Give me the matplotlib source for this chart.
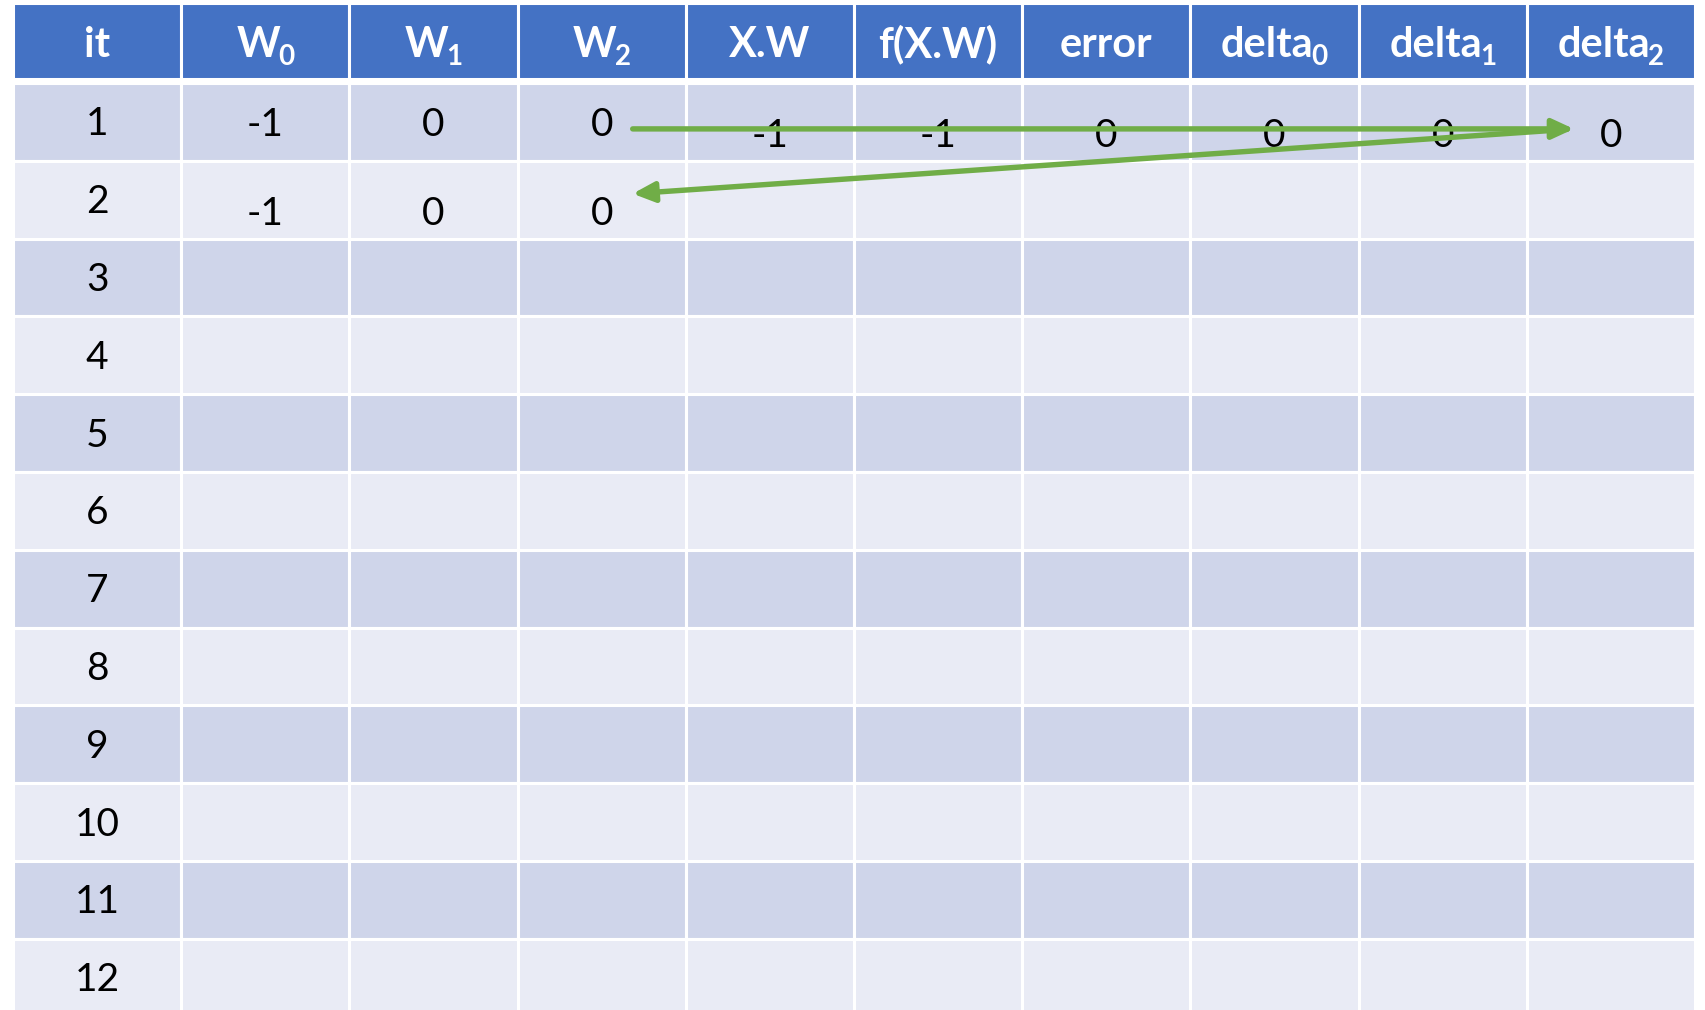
import matplotlib.pyplot as plt
from matplotlib.patches import Rectangle, FancyArrowPatch

plt.rcParams['font.family'] = ['Lato', 'DejaVu Sans']

# table content: header text and its subscript
headers = ['it', 'W', 'W', 'W', 'X.W', 'f(X.W)', 'error', 'delta', 'delta', 'delta']
header_subs = ['', '0', '1', '2', '', '', '', '0', '1', '2']
iterations = [str(i) for i in range(1, 13)]
row1 = ['-1', '0', '0', '-1', '-1', '0', '0', '0', '0']
row2 = ['-1', '0', '0']
values = [row1, row2]

# cells whose text sits lower in the cell (row index, column index)
low_cells = [(0, c) for c in range(4, 10)] + [(1, c) for c in range(1, 4)]

# arrows: (from row, from col) -> (to row, to col)
arrows = [((0, 3), (0, 9)), ((0, 9), (1, 3))]

header_col = '#4472C4'
odd_col = '#CFD5EA'
even_col = '#E9EBF5'
green = '#70AD47'

left = 13
col_w = 168.2
head_top, head_bot = 3, 79
row_top = 83
row_h = 77.8

fig = plt.figure(figsize=(17.06, 10.10), dpi=100)
ax = fig.add_axes([0, 0, 1, 1])
ax.set_xlim(0, 1706)
ax.set_ylim(1010, 0)
ax.axis('off')
renderer = fig.canvas.get_renderer()

def cx(c):
    return left + (c + 0.5) * col_w

def cy(r):
    return row_top + (r + 0.5) * row_h

# header
for c, (h, s) in enumerate(zip(headers, header_subs)):
    ax.add_patch(Rectangle((left + c * col_w, head_top), col_w, head_bot - head_top,
                           facecolor=header_col, edgecolor='white', lw=2.2))
    t = ax.text(0, 57, h, color='white', fontsize=30, fontweight='bold',
                ha='left', va='baseline')
    w = t.get_window_extent(renderer).width
    sw = 0
    if s:
        st = ax.text(0, 65, s, color='white', fontsize=20, fontweight='bold',
                     ha='left', va='baseline')
        sw = st.get_window_extent(renderer).width - 2
    x0 = cx(c) - (w + sw) / 2
    t.set_x(x0)
    if s:
        st.set_x(x0 + w - 2)

# body
for r, it in enumerate(iterations):
    fc = odd_col if r % 2 == 0 else even_col
    for c in range(len(headers)):
        ax.add_patch(Rectangle((left + c * col_w, row_top + r * row_h), col_w, row_h,
                               facecolor=fc, edgecolor='white', lw=2.2))
    ax.text(cx(0), cy(r) + 13.5, it, fontsize=28, ha='center', va='baseline')

for r, vals in enumerate(values):
    for i, v in enumerate(vals):
        c = i + 1
        off = 25.5 if (r, c) in low_cells else 14
        ax.text(cx(c), cy(r) + off, v, fontsize=28, ha='center', va='baseline')

# arrows
starts = [(31, 7), (-44, 7.5)]
ends = [(-37, 7), (31, -6)]
for (a, b), s, e in zip(arrows, starts, ends):
    p0 = (cx(a[1]) + s[0], cy(a[0]) + s[1])
    p1 = (cx(b[1]) + e[0], cy(b[0]) + e[1])
    ax.add_patch(FancyArrowPatch(p0, p1, arrowstyle='-|>,head_length=13,head_width=6',
                                 color=green, lw=3.9, shrinkA=0, shrinkB=0, zorder=5))

fig.savefig('out.png', dpi=100)
